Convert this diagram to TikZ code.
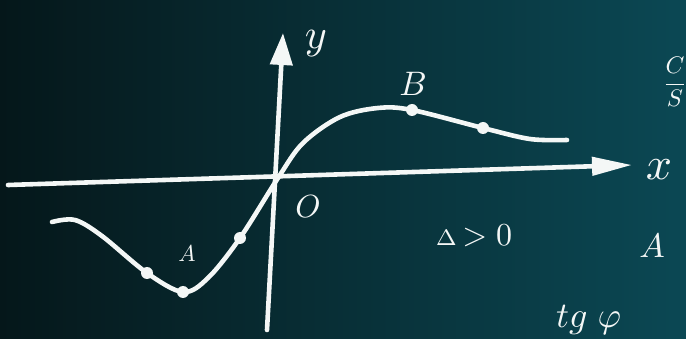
\documentclass[tikz,border=0pt]{standalone}
\usepackage{graphicx}
\usetikzlibrary{arrows.meta}
\definecolor{boardL}{HTML}{05171A}
\definecolor{boardR}{HTML}{0B4854}
\definecolor{chalk}{HTML}{F4F7F6}
\tikzset{
  chalkline/.style={draw=chalk, line width=4.6pt, line cap=round, line join=round},
  chalkdot/.style={circle, fill=chalk, inner sep=0pt, minimum size=12pt},
  chalktext/.style={text=chalk, inner sep=0pt}
}
\newcommand{\bigtxt}[2]{\scalebox{#1}{#2}}
\begin{document}
\begin{tikzpicture}[x=1pt,y=-1pt]
\useasboundingbox (0,0) rectangle (686,339);
\shade[left color=boardL, right color=boardR] (0,0) rectangle (686,339);
% axes
\coordinate (xs) at (8,185);
\coordinate (xe) at (632,165);
\coordinate (ys) at (267,330);
\coordinate (ye) at (283,33);
\draw[chalkline, -{Triangle[length=40pt,width=18pt]}] (xs) -- (xe);
\draw[chalkline, -{Triangle[length=32pt,width=22pt]}] (ys) -- (ye);
% curve
\draw[chalkline] plot[smooth, tension=0.55] coordinates {
 (52,222) (75,220) (102,236) (147,273) (183,292) (208,278) (240,238)
 (278,178) (303,143) (340,117) (378,108) (412,110) (483,128) (530,139) (567,140)};
\node[chalkdot] (p1) at (147,273) {};
\node[chalkdot] (p2) at (183,292) {};
\node[chalkdot] (p3) at (240,238) {};
\node[chalkdot] (p4) at (412,110) {};
\node[chalkdot] (p5) at (483,128) {};
% labels
\node[chalktext] (ly) at (316,44) {\bigtxt{4.2}{$y$}};
\node[chalktext] (lx) at (659,170) {\bigtxt{4.6}{$x$}};
\node[chalktext] (lo) at (308,207) {\bigtxt{3.2}{$O$}};
\node[chalktext] (lb) at (413,84) {\bigtxt{3.4}{$B$}};
\node[chalktext] (la) at (187,254) {\bigtxt{2.3}{$A$}};
\node[chalktext] (ld) at (474,236) {\bigtxt{3.2}{$\scriptstyle\Delta$\,$>0$}};
\node[chalktext] (la2) at (652,246) {\bigtxt{3.4}{$A$}};
\node[chalktext] (lf) at (675,82) {\bigtxt{2.4}{$\displaystyle\frac{C}{S}$}};
\node[chalktext, anchor=west] (ltg) at (556,320) {\bigtxt{3.6}{$tg\;\varphi$}};
\end{tikzpicture}
\end{document}
